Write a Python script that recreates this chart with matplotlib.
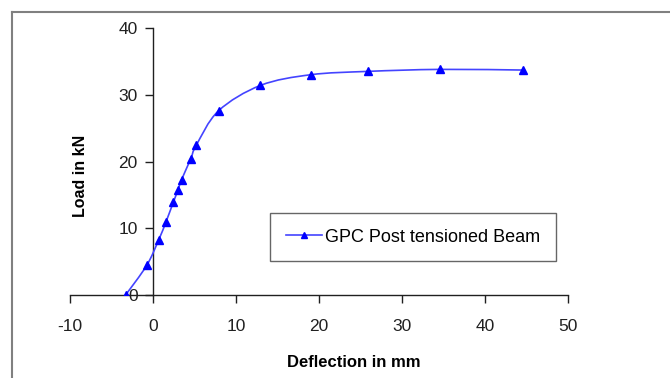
import matplotlib
matplotlib.use("Agg")
import matplotlib.pyplot as plt
from matplotlib.path import Path
from matplotlib.patches import PathPatch
from matplotlib.lines import Line2D

# valeurs
deflection = [-3.3, -0.75, 0.7, 1.55, 2.45, 3.0, 3.45, 4.55, 5.2, 7.9, 12.95, 19.0, 25.9, 34.6, 44.6]
load = [0.0, 4.45, 8.3, 10.9, 13.9, 15.7, 17.3, 20.4, 22.4, 27.6, 31.4, 33.0, 33.5, 33.8, 33.7]
series_name = "GPC Post tensioned Beam"
x_ticks = [-10, 0, 10, 20, 30, 40, 50]
y_ticks = [0, 10, 20, 30, 40]

plt.rcParams['font.family'] = ['Liberation Sans', 'DejaVu Sans']
plt.rcParams['axes.unicode_minus'] = False

line_color = '#4444ff'
marker_color = '#0000ff'


def smooth_path(xs, ys):
    # courbe lissée façon tableur (Bézier cubique)
    pts = list(zip(xs, ys))
    n = len(pts)
    verts = [pts[0]]
    codes = [Path.MOVETO]
    for i in range(n - 1):
        p0 = pts[i - 1] if i > 0 else pts[i]
        p1 = pts[i]
        p2 = pts[i + 1]
        p3 = pts[i + 2] if i + 2 < n else pts[i + 1]
        c1 = (p1[0] + (p2[0] - p0[0]) / 6, p1[1] + (p2[1] - p0[1]) / 6)
        c2 = (p2[0] - (p3[0] - p1[0]) / 6, p2[1] - (p3[1] - p1[1]) / 6)
        verts += [c1, c2, p2]
        codes += [Path.CURVE4] * 3
    return Path(verts, codes)


fig = plt.figure(figsize=(6.7, 3.78), dpi=100)
ax = fig.add_axes([70 / 670, 1 - 295 / 378, 498 / 670, 267 / 378])

ax.add_patch(PathPatch(smooth_path(deflection, load), fill=False,
                       edgecolor=line_color, linewidth=1.2, zorder=3))
ax.plot(deflection, load, linestyle='none', marker='^', markersize=6,
        color=marker_color, zorder=4)

ax.set_xlim(-10, 50)
ax.set_ylim(0, 40)
ax.set_xticks(x_ticks)
ax.set_yticks(y_ticks)

ax.spines['top'].set_visible(False)
ax.spines['right'].set_visible(False)
ax.spines['left'].set_position(('data', 0))
for s in ['left', 'bottom']:
    ax.spines[s].set_color('#202020')
    ax.spines[s].set_linewidth(1.0)

ax.tick_params(axis='x', direction='out', length=6, width=1, pad=11,
               labelsize=12.5, colors='#202020')
ax.tick_params(axis='y', direction='out', length=6, width=1, pad=5,
               labelsize=12.5, colors='#202020')

ax.set_xlabel("Deflection in mm", fontsize=12, fontweight='bold')
ax.set_ylabel("Load in kN", fontsize=11.5, fontweight='bold')
ax.xaxis.set_label_coords(0.57, -0.225)
ax.yaxis.set_label_coords(0.036, 0.446)

handle = Line2D([], [], color=line_color, linewidth=1.2, marker='^',
                markersize=6, markerfacecolor=marker_color,
                markeredgecolor=marker_color)
leg = ax.legend([handle], [series_name], loc='center',
                bbox_to_anchor=(0.689, 0.217), fontsize=13, frameon=True,
                fancybox=False, shadow=False, borderpad=0.85,
                handlelength=2.0, handletextpad=0.2, borderaxespad=0,
                markerscale=0.8)
leg.get_frame().set_edgecolor('#404040')
leg.get_frame().set_linewidth(1.0)

# bordure de la zone graphique
fig.add_artist(Line2D([12 / 670, 12 / 670], [0, 1 - 12 / 378],
                      transform=fig.transFigure, color='#808080', linewidth=1.5))
fig.add_artist(Line2D([12 / 670, 1], [1 - 12 / 378, 1 - 12 / 378],
                      transform=fig.transFigure, color='#808080', linewidth=1.5))

fig.savefig("out.png", dpi=100)
